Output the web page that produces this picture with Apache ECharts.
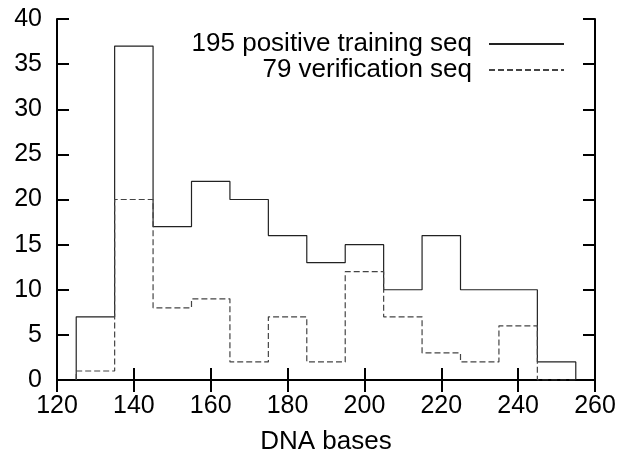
<!DOCTYPE html>
<html>
<head>
<meta charset="utf-8">
<script src="https://cdn.jsdelivr.net/npm/echarts@6/dist/echarts.min.js"></script>
<style>
  html, body { margin: 0; padding: 0; background: #fff; }
  #chart { width: 634px; height: 454px; }
</style>
</head>
<body>
<div id="chart"></div>
<script>
// histogram bins (left edge), width 10
const binStarts = [125, 135, 145, 155, 165, 175, 185, 195, 205, 215, 225, 235, 245]
const binWidth = 10
const trainingCounts = [7, 37, 17, 22, 20, 16, 13, 15, 10, 16, 10, 10, 2]
const verificationCounts = [1, 20, 8, 9, 2, 7, 2, 12, 7, 3, 2, 6, 0]
const xTicks = [120, 140, 160, 180, 200, 220, 240, 260]
const yTicks = [0, 5, 10, 15, 20, 25, 30, 35, 40]

// turn bin counts into outline points for a step line
function stepPoints(counts) {
  const pts = [[binStarts[0], 0]]
  binStarts.forEach((x, i) => pts.push([x, counts[i]]))
  const end = binStarts[binStarts.length - 1] + binWidth
  pts.push([end, counts[counts.length - 1]])
  pts.push([end, 0])
  return pts
}

const font = 'Liberation Sans, Arial, sans-serif'
const fontSize = 25
const axisLine = { show: true, lineStyle: { color: '#000', width: 2 } }
const tick = { show: true, inside: true, length: 12, lineStyle: { color: '#000', width: 2 } }

const chart = echarts.init(document.getElementById('chart'))
chart.setOption({
  animation: false,
  grid: { left: 57, right: 39, top: 19, bottom: 74, outerBoundsMode: 'none', containLabel: false },
  legend: {
    orient: 'vertical',
    align: 'right',
    right: 69,
    top: 31,
    padding: 0,
    itemWidth: 75,
    itemHeight: 14,
    itemGap: 0,
    selectedMode: false,
    itemStyle: { opacity: 0 },
    textStyle: { fontFamily: font, fontSize: 26, lineHeight: 26, color: '#000', padding: [0, 12, 0, 0] },
    data: ['195 positive training seq', '79 verification seq'],
  },
  xAxis: [
    {
      type: 'value',
      min: xTicks[0],
      max: xTicks[xTicks.length - 1],
      interval: 20,
      name: 'DNA bases',
      nameLocation: 'middle',
      nameGap: 49,
      nameTextStyle: { fontFamily: font, fontSize: 26, color: '#000' },
      axisLine,
      axisTick: tick,
      splitLine: { show: false },
      axisLabel: { fontFamily: font, fontSize, color: '#000', margin: 14 },
    },
    {
      type: 'value',
      position: 'top',
      min: xTicks[0],
      max: xTicks[xTicks.length - 1],
      interval: 20,
      axisLine,
      axisTick: tick,
      splitLine: { show: false },
      axisLabel: { show: false },
    },
  ],
  yAxis: [
    {
      type: 'value',
      min: yTicks[0],
      max: yTicks[yTicks.length - 1],
      interval: 5,
      axisLine,
      axisTick: tick,
      splitLine: { show: false },
      axisLabel: { fontFamily: font, fontSize, color: '#000', margin: 15 },
    },
    {
      type: 'value',
      position: 'right',
      min: yTicks[0],
      max: yTicks[yTicks.length - 1],
      interval: 5,
      axisLine,
      axisTick: tick,
      splitLine: { show: false },
      axisLabel: { show: false },
    },
  ],
  series: [
    {
      name: '195 positive training seq',
      type: 'line',
      step: 'end',
      symbol: 'none',
      data: stepPoints(trainingCounts),
      lineStyle: { color: '#222', width: 1.2 },
      itemStyle: { color: '#222' },
    },
    {
      name: '79 verification seq',
      type: 'line',
      step: 'end',
      symbol: 'none',
      data: stepPoints(verificationCounts),
      lineStyle: { color: '#444', width: 1.2, type: [6, 3] },
      itemStyle: { color: '#444' },
    },
  ],
})
</script>
</body>
</html>
